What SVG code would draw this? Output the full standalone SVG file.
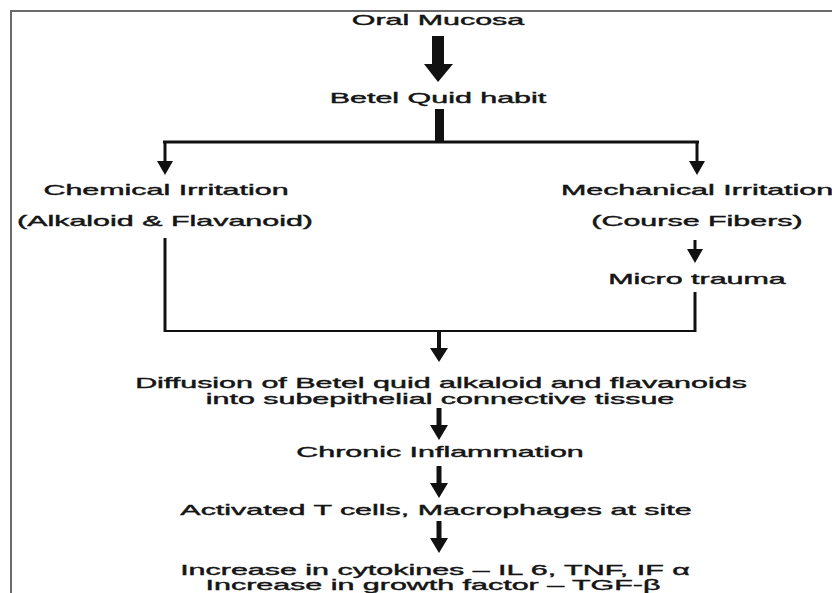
<svg xmlns="http://www.w3.org/2000/svg" width="832" height="593" viewBox="0 0 832 593">
  <defs>
    <style>
      .t { font-family: "Liberation Sans", Arial, sans-serif; font-size: 14.5px; fill: #151515; stroke: #151515; stroke-width: 0.4px; text-anchor: middle; }
      .ln { stroke: #111; fill: none; }
      .ah { fill: #111; stroke: none; }
      .border { stroke: #6a6a6a; stroke-width: 2; fill: none; }
    </style>
  </defs>
  <rect width="832" height="593" fill="#fff"/>
  <path class="border" d="M11 593 V11 H832"/>

  <g id="connectors">
    <!-- Oral Mucosa -> Betel Quid habit (big arrow) -->
    <rect class="ah" x="432" y="36" width="12" height="29"/>
    <polygon class="ah" points="424,64 453,64 438,82"/>
    <!-- Betel Quid habit split -->
    <rect class="ah" x="435" y="109" width="9" height="34"/>
    <line class="ln" x1="163" y1="142" x2="699" y2="142" stroke-width="3"/>
    <line class="ln" x1="165" y1="142" x2="165" y2="162" stroke-width="3"/>
    <polygon class="ah" points="157,161 173,161 165,175"/>
    <line class="ln" x1="697" y1="142" x2="697" y2="162" stroke-width="3"/>
    <polygon class="ah" points="689,161 705,161 697,175"/>
    <!-- Course Fibers -> Micro trauma -->
    <line class="ln" x1="695" y1="240" x2="695" y2="250" stroke-width="3"/>
    <polygon class="ah" points="687,249 703,249 695,263"/>
    <!-- merge bracket -->
    <line class="ln" x1="165" y1="238" x2="165" y2="332" stroke-width="3"/>
    <line class="ln" x1="695" y1="292" x2="695" y2="332" stroke-width="3"/>
    <line class="ln" x1="164" y1="331" x2="696" y2="331" stroke-width="2"/>
    <line class="ln" x1="439" y1="331" x2="439" y2="349" stroke-width="4"/>
    <polygon class="ah" points="430,348 448,348 439,362"/>
    <!-- Diffusion -> Chronic -->
    <line class="ln" x1="439" y1="408" x2="439" y2="426" stroke-width="5"/>
    <polygon class="ah" points="430,425 448,425 439,440"/>
    <!-- Chronic -> Activated -->
    <line class="ln" x1="439" y1="466" x2="439" y2="484" stroke-width="5"/>
    <polygon class="ah" points="430,483 448,483 439,498"/>
    <!-- Activated -> Increase -->
    <line class="ln" x1="439" y1="521" x2="439" y2="539" stroke-width="5"/>
    <polygon class="ah" points="430,538 448,538 439,553"/>
  </g>

  <g id="oral-mucosa"><text class="t" transform="translate(438 25) scale(2.1 1)">Oral Mucosa</text></g>
  <g id="betel-quid-habit"><text class="t" transform="translate(438 103) scale(2.1 1)">Betel Quid habit</text></g>
  <g id="chemical-irritation">
    <text class="t" transform="translate(166 195) scale(2.1 1)">Chemical Irritation</text>
    <text class="t" transform="translate(165 226) scale(2.1 1)">(Alkaloid &amp; Flavanoid)</text>
  </g>
  <g id="mechanical-irritation">
    <text class="t" transform="translate(697 195) scale(2.1 1)">Mechanical Irritation</text>
    <text class="t" transform="translate(697 226) scale(2.1 1)">(Course Fibers)</text>
  </g>
  <g id="micro-trauma"><text class="t" transform="translate(697 284) scale(2.1 1)">Micro trauma</text></g>
  <g id="diffusion">
    <text class="t" transform="translate(441 388) scale(2.1 1)">Diffusion of Betel quid alkaloid and flavanoids</text>
    <text class="t" transform="translate(440 404) scale(2.1 1)">into subepithelial connective tissue</text>
  </g>
  <g id="chronic-inflammation"><text class="t" transform="translate(440 457) scale(2.1 1)">Chronic Inflammation</text></g>
  <g id="activated-cells"><text class="t" transform="translate(436 515) scale(2.1 1)">Activated T cells, Macrophages at site</text></g>
  <g id="increase">
    <text class="t" transform="translate(435 575) scale(2.1 1)">Increase in cytokines – IL 6, TNF, IF α</text>
    <text class="t" transform="translate(433 590) scale(2.1 1)">Increase in growth factor – TGF-β</text>
  </g>
</svg>
